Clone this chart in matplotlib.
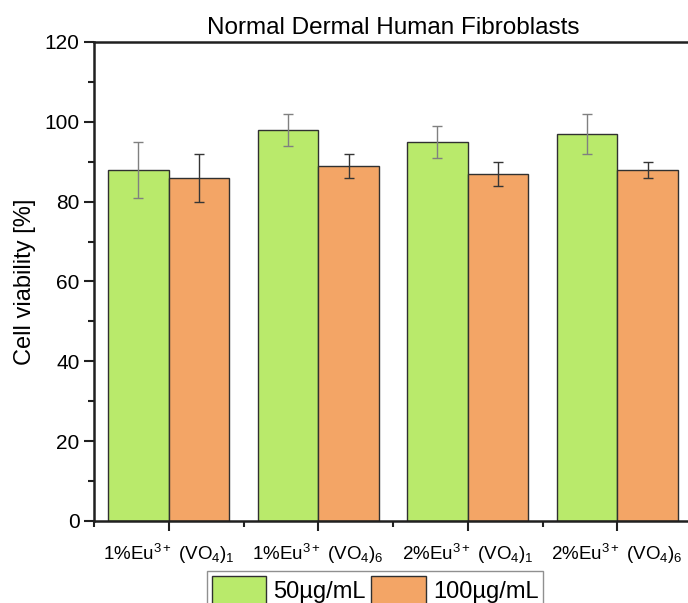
import numpy as np
import matplotlib.pyplot as plt
from matplotlib.ticker import MultipleLocator

plt.rcParams['font.family'] = ['Liberation Sans', 'DejaVu Sans']
plt.rcParams['mathtext.fontset'] = 'custom'
plt.rcParams['mathtext.rm'] = 'Liberation Sans'
plt.rcParams['mathtext.it'] = 'Liberation Sans'

# viabilité cellulaire (%) et écarts-types
samples = ['1%Eu$^{3+}$ (VO$_4$)$_1$', '1%Eu$^{3+}$ (VO$_4$)$_6$',
           '2%Eu$^{3+}$ (VO$_4$)$_1$', '2%Eu$^{3+}$ (VO$_4$)$_6$']
doses = ['50µg/mL', '100µg/mL']
viab_50 = [88, 98, 95, 97]
err_50 = [7, 4, 4, 5]
viab_100 = [86, 89, 87, 88]
err_100 = [6, 3, 3, 2]

fig = plt.figure(figsize=(6.88, 6.03), dpi=100)
ax = fig.add_axes([94 / 688, 82 / 603, 598 / 688, 479 / 603])

x = np.arange(len(samples))
w = 0.405
ax.bar(x - w / 2, viab_50, w, color='#b9ea6b', edgecolor='#303030', linewidth=1.0,
       label=doses[0], zorder=2)
ax.bar(x + w / 2, viab_100, w, color='#f3a566', edgecolor='#303030', linewidth=1.0,
       label=doses[1], zorder=2)
ax.errorbar(x - w / 2, viab_50, yerr=err_50, fmt='none', ecolor='#808080',
            elinewidth=1.0, capsize=3.8, capthick=1.0, zorder=3)
ax.errorbar(x + w / 2, viab_100, yerr=err_100, fmt='none', ecolor='#353535',
            elinewidth=1.0, capsize=3.8, capthick=1.0, zorder=3)

ax.set_xlim(-0.5, 3.5)
ax.set_ylim(0, 120)
ax.set_xticks(x)
ax.set_xticklabels(samples)
ax.xaxis.set_minor_locator(plt.FixedLocator([-0.5, 0.5, 1.5, 2.5]))
ax.yaxis.set_major_locator(MultipleLocator(20))
ax.yaxis.set_minor_locator(MultipleLocator(10))
ax.tick_params(axis='both', which='major', direction='out', length=7, width=1.5,
               labelsize=15, color='#202020')
ax.tick_params(axis='x', which='major', labelsize=13.5, pad=8)
ax.tick_params(axis='both', which='minor', direction='out', length=4, width=1.5,
               color='#202020')

for side in ['left', 'bottom', 'top']:
    ax.spines[side].set_linewidth(1.8)
    ax.spines[side].set_color('#202020')
ax.spines['right'].set_visible(False)

ax.set_ylabel('Cell viability [%]', fontsize=17, labelpad=6)
ax.set_title('Normal Dermal Human Fibroblasts', fontsize=17.5, pad=6)

fig.legend(loc='upper center', bbox_to_anchor=(375 / 688, 32 / 603), ncol=2,
           fontsize=17, handlelength=2.3, handleheight=1.5, handletextpad=0.3,
           columnspacing=0.25, borderpad=0.2, borderaxespad=0, fancybox=False,
           edgecolor='#909090', framealpha=1)

fig.savefig('out.png', dpi=100)
